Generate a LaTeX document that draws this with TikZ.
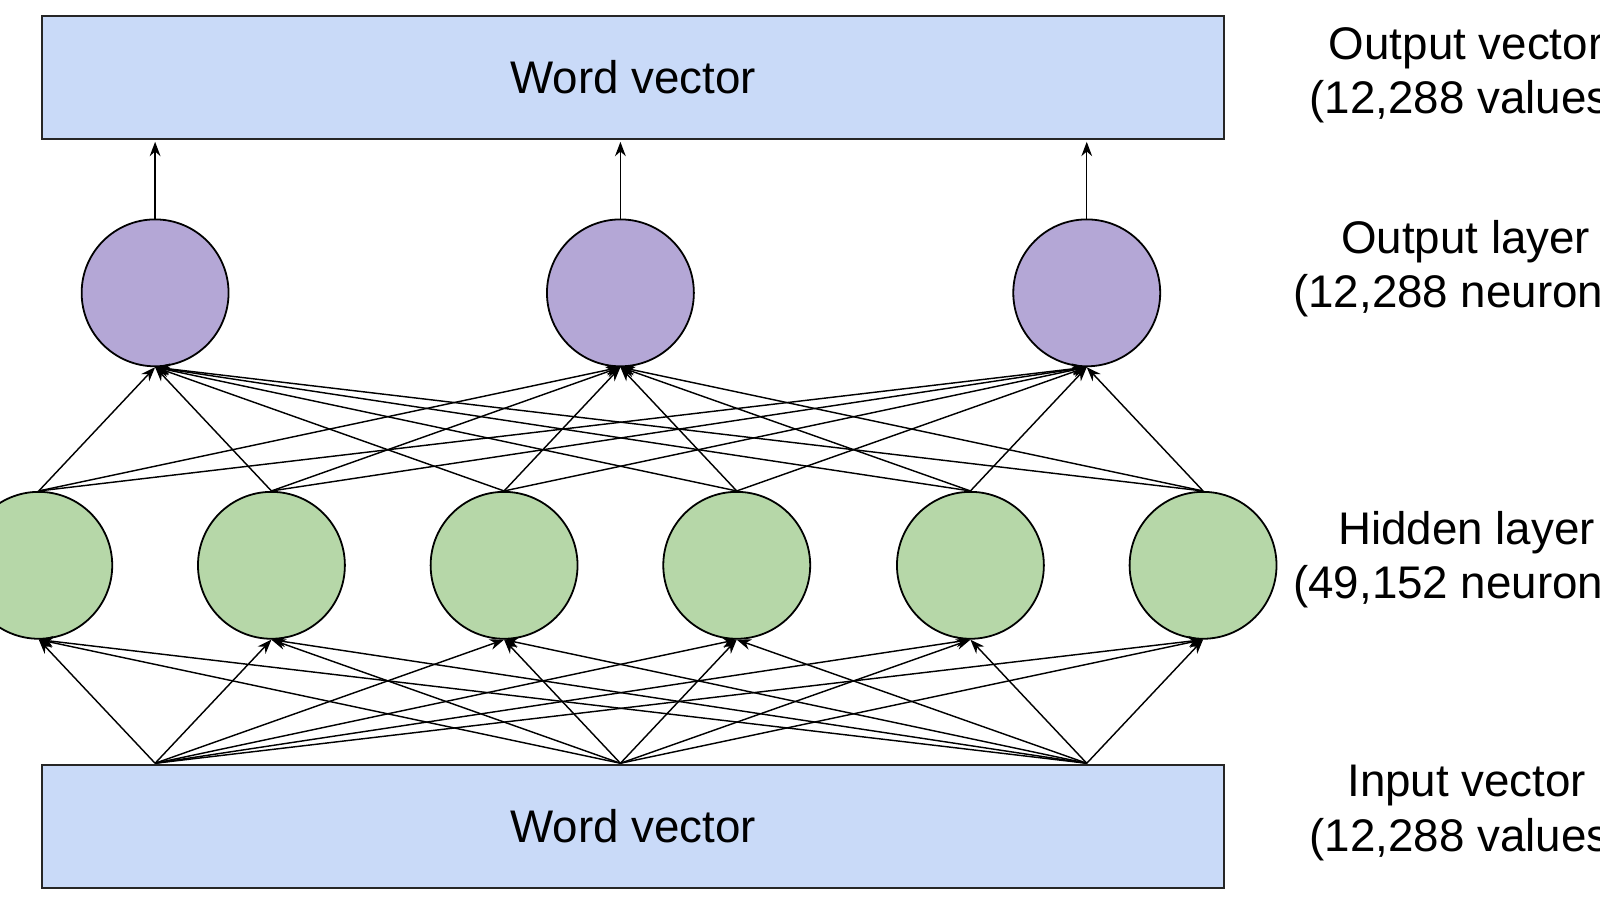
\documentclass[tikz,border=0pt]{standalone}
\usepackage{fontspec}
\setmainfont{Liberation Sans}
\usetikzlibrary{arrows.meta}
\definecolor{boxfill}{HTML}{C9DAF8}
\definecolor{outfill}{HTML}{B4A7D6}
\definecolor{hidfill}{HTML}{B6D7A8}
\tikzset{x=0.02cm,y=-0.02cm,
 vec/.style={draw=black!85,fill=boxfill,line width=1pt,minimum width=23.18cm,minimum height=2.42cm,font=\fontsize{25.5}{30}\selectfont},
 neuron/.style={circle,draw=black,line width=1pt,minimum size=2.88cm,inner sep=0pt},
 conn/.style={-{Stealth[length=8pt,width=6pt]},line width=0.8pt},
 lab/.style={anchor=west,font=\fontsize{25.5}{30}\selectfont,inner sep=0pt}}
\begin{document}
\begin{tikzpicture}
\useasboundingbox (0,0) rectangle (1568,882);
\clip (0,0) rectangle (1568,882);
\fill[white] (0,0) rectangle (1568,882);
\node[vec] (top) at (620.5,76) {Word vector};
\node[vec] (bot) at (620.5,810) {Word vector};
\foreach \i/\x in {1/152,2/608,3/1065}{
  \node[neuron,fill=outfill] (o\i) at (\x,287) {};
  \coordinate (t\i) at (\x,139);
  \coordinate (b\i) at (\x,748);
  \draw[conn] (o\i.north) -- (t\i);
}
\foreach \i/\x in {1/38,2/266,3/494,4/722,5/951,6/1179}{
  \node[neuron,fill=hidfill] (h\i) at (\x,554) {};
}
\foreach \i in {1,...,6}{
  \foreach \j in {1,2,3}{
    \draw[conn] (b\j) -- (h\i.south);
    \draw[conn] (h\i.north) -- (o\j.south);
  }
}
\node[lab] (l1) at (1302,47) {Output vector};
\node[lab] (l2) at (1283,100) {(12,288 values)};
\node[lab] (l3) at (1314,237) {Output layer};
\node[lab] (l4) at (1267,290) {(12,288 neurons)};
\node[lab] (l5) at (1311,522) {Hidden layer};
\node[lab] (l6) at (1267,575) {(49,152 neurons)};
\node[lab] (l7) at (1320,770) {Input vector};
\node[lab] (l8) at (1283,823) {(12,288 values)};
\end{tikzpicture}
\end{document}
